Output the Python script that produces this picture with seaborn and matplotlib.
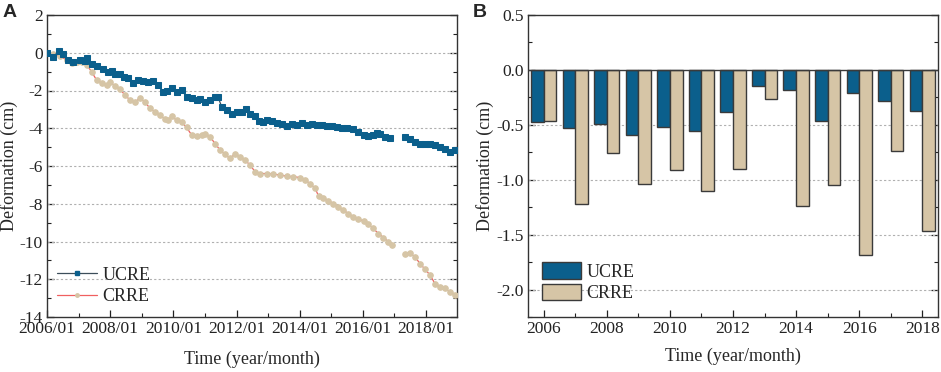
import numpy as np
import pandas as pd
import matplotlib
matplotlib.use("Agg")
import matplotlib.pyplot as plt
import seaborn as sns
from matplotlib.ticker import FixedLocator, MultipleLocator, FormatStrFormatter
from matplotlib.lines import Line2D
from matplotlib.patches import Patch

# ---------------- data ----------------
ucre_t = [2006.00, 2006.20, 2006.39, 2006.52, 2006.68, 2006.83, 2007.04, 2007.20, 2007.26, 2007.41,
          2007.57, 2007.78, 2007.94, 2008.05, 2008.15, 2008.31, 2008.44, 2008.58, 2008.73, 2008.89,
          2009.05, 2009.21, 2009.37, 2009.52, 2009.68, 2009.79, 2009.95, 2010.10, 2010.26, 2010.42,
          2010.58, 2010.74, 2010.84, 2011.00, 2011.16, 2011.32, 2011.42, 2011.53, 2011.69, 2011.85,
          2012.00, 2012.16, 2012.30, 2012.43, 2012.59, 2012.72, 2012.85, 2012.96, 2013.03, 2013.11,
          2013.27, 2013.43, 2013.59, 2013.75, 2013.90, 2014.06, 2014.22, 2014.38, 2014.54, 2014.70,
          2014.85, 2015.01, 2015.17, 2015.33, 2015.49, 2015.70, 2015.86, 2016.02, 2016.17, 2016.31,
          2016.44, 2016.54, 2016.70, 2016.86, 2017.10, 2017.33, 2017.49, 2017.65, 2017.81, 2017.97,
          2018.13, 2018.28, 2018.44, 2018.60, 2018.76, 2018.92]
ucre_v = [0.00, -0.20, 0.10, -0.07, -0.39, -0.48, -0.39, -0.42, -0.30, -0.57,
          -0.71, -0.87, -1.00, -0.95, -1.13, -1.13, -1.27, -1.36, -1.62, -1.45,
          -1.48, -1.54, -1.48, -1.71, -2.06, -2.00, -1.89, -2.06, -1.98, -2.33,
          -2.42, -2.51, -2.47, -2.60, -2.51, -2.33, -2.37, -2.86, -3.04, -3.22,
          -3.13, -3.13, -3.00, -3.22, -3.36, -3.60, -3.66, -3.57, np.nan, -3.60,
          -3.71, -3.78, -3.89, -3.78, -3.83, -3.71, -3.83, -3.78, -3.82, -3.85,
          -3.89, -3.89, -3.96, -4.00, -3.99, -4.03, -4.19, -4.36, -4.42, -4.36,
          -4.24, -4.28, -4.45, -4.54, np.nan, -4.49, -4.59, -4.72, -4.81, -4.84,
          -4.84, -4.89, -4.98, -5.12, -5.25, -5.16]

crre_t = [2006.00, 2006.20, 2006.41, 2006.62, 2006.78, 2006.94, 2007.10, 2007.26, 2007.41, 2007.57,
          2007.73, 2007.89, 2008.00, 2008.15, 2008.31, 2008.47, 2008.63, 2008.79, 2008.94, 2009.10,
          2009.26, 2009.42, 2009.58, 2009.74, 2009.84, 2009.95, 2010.10, 2010.26, 2010.42, 2010.58,
          2010.74, 2010.90, 2011.00, 2011.16, 2011.32, 2011.48, 2011.63, 2011.79, 2011.95, 2012.11,
          2012.27, 2012.43, 2012.59, 2012.74, 2012.96, 2013.17, 2013.38, 2013.59, 2013.80, 2014.01,
          2014.17, 2014.33, 2014.49, 2014.60, 2014.75, 2014.91, 2015.07, 2015.22, 2015.38, 2015.54,
          2015.70, 2015.86, 2016.02, 2016.17, 2016.33, 2016.49, 2016.65, 2016.81, 2016.91, 2017.10,
          2017.33, 2017.49, 2017.65, 2017.81, 2017.97, 2018.13, 2018.28, 2018.44, 2018.60, 2018.76,
          2018.92]
crre_v = [0.00, -0.07, -0.18, -0.39, -0.53, -0.48, -0.48, -0.65, -1.00, -1.45,
          -1.59, -1.71, -1.54, -1.77, -1.94, -2.24, -2.51, -2.60, -2.42, -2.60,
          -2.95, -3.13, -3.30, -3.53, -3.57, -3.36, -3.57, -3.66, -3.96, -4.36,
          -4.42, -4.36, -4.28, -4.45, -4.81, -5.16, -5.37, -5.60, -5.37, -5.51,
          -5.69, -5.95, -6.31, -6.40, -6.40, -6.43, -6.48, -6.54, -6.57, -6.61,
          -6.75, -6.93, -7.19, -7.60, -7.72, -7.84, -7.99, -8.16, -8.34, -8.52,
          -8.69, -8.83, -8.90, -9.08, -9.31, -9.58, -9.79, -10.02, -10.19, np.nan,
          -10.64, -10.60, -10.82, -11.17, -11.48, -11.78, -12.23, -12.40, -12.49, -12.67,
          -12.84]

years = [2006, 2007, 2008, 2009, 2010, 2011, 2012, 2013, 2014, 2015, 2016, 2017, 2018]
ucre_annual = [-0.474, -0.526, -0.489, -0.590, -0.523, -0.553, -0.383, -0.146, -0.182,
               -0.468, -0.213, -0.286, -0.377]
crre_annual = [-0.465, -1.222, -0.760, -1.040, -0.912, -1.100, -0.900, -0.264, -1.243,
               -1.049, -1.687, -0.742, -1.465]

xtick_years = [2006, 2008, 2010, 2012, 2014, 2016, 2018]
xtick_labels_a = ["2006/01", "2008/01", "2010/01", "2012/01", "2014/01", "2016/01", "2018/01"]

# ---------------- style ----------------
sns.set_style("ticks")
plt.rcParams["font.family"] = ["Liberation Serif", "DejaVu Serif"]
plt.rcParams["axes.unicode_minus"] = False
plt.rcParams["axes.edgecolor"] = "#333333"
plt.rcParams["axes.linewidth"] = 1.0

BLUE = "#0b5f8c"
TAN = "#d6c5a6"
RED = "#f06060"
EDGE = "#3a3a3a"
GRID = "#b0b0b0"
LBL = 13
TICK = 12.5

fig = plt.figure(figsize=(9.41, 3.72), dpi=100)
axA = fig.add_axes([47 / 941, 1 - 317 / 372, 410 / 941, 302 / 372])
axB = fig.add_axes([528 / 941, 1 - 317 / 372, 410 / 941, 302 / 372])


def segments(t, v, name):
    df = pd.DataFrame({"t": t, "v": v})
    df["seg"] = df["v"].isna().cumsum()
    df["series"] = name
    return df.dropna()


dfu = segments(ucre_t, ucre_v, "UCRE")
dfc = segments(crre_t, crre_v, "CRRE")

for s, g in dfc.groupby("seg"):
    sns.lineplot(data=g, x="t", y="v", ax=axA, color=RED, lw=0.9, marker="o",
                 markersize=4.0, markerfacecolor=TAN, markeredgecolor=TAN,
                 estimator=None, sort=False, legend=False, zorder=3)
for s, g in dfu.groupby("seg"):
    sns.lineplot(data=g, x="t", y="v", ax=axA, color="#3c4e5a", lw=0.9, marker="s",
                 markersize=4.2, markerfacecolor=BLUE, markeredgecolor=BLUE,
                 estimator=None, sort=False, legend=False, zorder=4)

axA.set_xlim(2006.0, 2018.98)
axA.set_ylim(-14, 2)
axA.xaxis.set_major_locator(FixedLocator(xtick_years))
axA.set_xticklabels(xtick_labels_a)
axA.xaxis.set_minor_locator(MultipleLocator(1))
axA.yaxis.set_major_locator(MultipleLocator(2))
axA.yaxis.set_minor_locator(MultipleLocator(1))
for yv in [-12, -10, -8, -6, -4, -2, 0]:
    axA.axhline(yv, color=GRID, lw=0.8, ls=(0, (2, 2)), zorder=1)
axA.set_xlabel("Time (year/month)", fontsize=LBL)
axA.set_ylabel("Deformation (cm)", fontsize=LBL)
axA.xaxis.set_label_coords(0.5, -(351 - 317) / 302)
axA.yaxis.set_label_coords(-(47 - 18) / 410, 0.5)

legA = [Line2D([0], [0], color="#3c4e5a", lw=0.9, marker="s", markersize=3.5,
               markerfacecolor=BLUE, markeredgecolor=BLUE, label="UCRE"),
        Line2D([0], [0], color=RED, lw=0.9, marker="o", markersize=2.5,
               markerfacecolor=TAN, markeredgecolor=TAN, label="CRRE")]
axA.legend(handles=legA, loc="lower left", bbox_to_anchor=(-0.015, -0.015), frameon=False,
           fontsize=LBL, handlelength=2.2, handletextpad=0.3, labelspacing=0.25,
           borderaxespad=0.5)

# ---------------- panel B ----------------
dfb = pd.DataFrame({
    "year": [str(y) for y in years] * 2,
    "value": ucre_annual + crre_annual,
    "series": ["UCRE"] * len(years) + ["CRRE"] * len(years),
})
sns.barplot(data=dfb, x="year", y="value", hue="series", ax=axB,
            palette={"UCRE": BLUE, "CRRE": TAN}, width=0.8, gap=0,
            edgecolor=EDGE, linewidth=1.0, saturation=1, legend=False, zorder=3)
axB.set_xlim(-0.5, 12.5)
axB.set_ylim(-2.25, 0.5)
axB.xaxis.set_major_locator(FixedLocator([0, 2, 4, 6, 8, 10, 12]))
axB.set_xticklabels([str(y) for y in xtick_years])
axB.xaxis.set_minor_locator(FixedLocator([1, 3, 5, 7, 9, 11]))
axB.yaxis.set_major_locator(MultipleLocator(0.5))
axB.yaxis.set_minor_locator(MultipleLocator(0.25))
axB.yaxis.set_major_formatter(FormatStrFormatter("%.1f"))
for yv in [-2.0, -1.5, -1.0, -0.5]:
    axB.axhline(yv, color=GRID, lw=0.8, ls=(0, (2, 2)), zorder=1)
axB.axhline(0, color=EDGE, lw=1.0, zorder=4)
axB.set_xlabel("Time (year/month)", fontsize=LBL)
axB.set_ylabel("Deformation (cm)", fontsize=LBL)
axB.xaxis.set_label_coords(0.5, -(348 - 317) / 302)
axB.yaxis.set_label_coords(-(528 - 494) / 410, 0.5)

legB = [Patch(facecolor=BLUE, edgecolor=EDGE, lw=1.0, label="UCRE"),
        Patch(facecolor=TAN, edgecolor=EDGE, lw=1.0, label="CRRE")]
axB.legend(handles=legB, loc="lower left", bbox_to_anchor=(-0.005, -0.005), frameon=False,
           fontsize=LBL, handlelength=2.15, handleheight=1.05, handletextpad=0.3,
           labelspacing=0.17, borderaxespad=0.5)

for ax in (axA, axB):
    ax.tick_params(axis="both", which="both", direction="in", right=True, top=False,
                   labelsize=TICK, colors="#222222", pad=3)
    ax.tick_params(which="major", length=5, width=0.9)
    ax.tick_params(which="minor", length=3, width=0.8)
    for sp in ax.spines.values():
        sp.set_visible(True)
        sp.set_color("#333333")
        sp.set_linewidth(1.0)

fig.text(3 / 941, 1 - 4 / 372, "A", fontsize=14, fontweight="bold",
         family="Liberation Sans", va="top", ha="left")
fig.text(473 / 941, 1 - 4 / 372, "B", fontsize=14, fontweight="bold",
         family="Liberation Sans", va="top", ha="left")

fig.savefig("out.png", dpi=100)
